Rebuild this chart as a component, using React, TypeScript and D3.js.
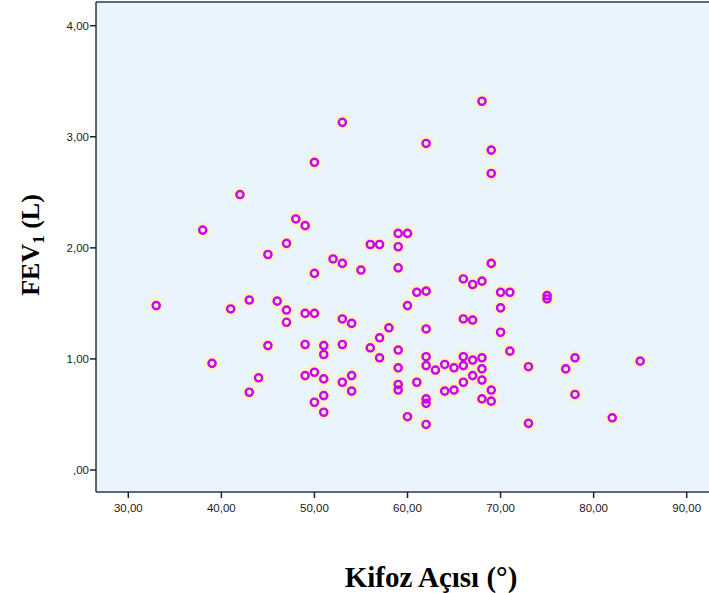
import React from 'react';
import * as d3 from 'd3';

// Kifoz açısı (derece) ve FEV1 (L) değerleri
const kifozAcisi: number[] = [
  68, 53, 62, 69, 69, 50, 42, 48, 49, 38,
  59, 60, 47, 56, 57, 59, 45, 52, 53, 69,
  59, 55, 50, 66, 68, 67, 61, 62, 70, 71,
  75, 75, 43, 46, 33, 60, 70, 41, 47, 49,
  50, 53, 66, 67, 47, 54, 58, 62, 70, 57,
  49, 51, 53, 45, 56, 59, 71, 51, 62, 66,
  57, 68, 78, 67, 85, 39, 62, 66, 64, 65,
  73, 59, 63, 68, 77, 50, 49, 54, 67, 44,
  51, 68, 53, 61, 66, 59, 59, 64, 65, 69,
  54, 43, 78, 51, 68, 62, 69, 50, 62, 51,
  60, 82, 62, 73,
];

const fev1: number[] = [
  3.32, 3.13, 2.94, 2.88, 2.67, 2.77, 2.48, 2.26, 2.2, 2.16,
  2.13, 2.13, 2.04, 2.03, 2.03, 2.01, 1.94, 1.9, 1.86, 1.86,
  1.82, 1.8, 1.77, 1.72, 1.7, 1.67, 1.6, 1.61, 1.6, 1.6,
  1.57, 1.54, 1.53, 1.52, 1.48, 1.48, 1.46, 1.45, 1.44, 1.41,
  1.41, 1.36, 1.36, 1.35, 1.33, 1.32, 1.28, 1.27, 1.24, 1.19,
  1.13, 1.12, 1.13, 1.12, 1.1, 1.08, 1.07, 1.04, 1.02, 1.02,
  1.01, 1.01, 1.01, 0.99, 0.98, 0.96, 0.94, 0.94, 0.95, 0.92,
  0.93, 0.92, 0.9, 0.91, 0.91, 0.88, 0.85, 0.85, 0.85, 0.83,
  0.82, 0.81, 0.79, 0.79, 0.79, 0.77, 0.72, 0.71, 0.72, 0.72,
  0.71, 0.7, 0.68, 0.67, 0.64, 0.64, 0.62, 0.61, 0.6, 0.52,
  0.48, 0.47, 0.41, 0.42,
];

const xTicks: number[] = [30, 40, 50, 60, 70, 80, 90];
const yTicks: number[] = [0, 1, 2, 3, 4];

const fmt = (v: number) => {
  const s = v.toFixed(2).replace('.', ',');
  return s.startsWith('0') ? s.slice(1) : s;
};

export default function App() {
  const width = 709;
  const height = 593;
  const plot = { left: 96, top: 2, right: 712, bottom: 492 };

  const x = d3.scaleLinear().domain([30, 90]).range([128.3, 686.7]);
  const y = d3.scaleLinear().domain([0, 4]).range([470, 25.7]);

  const points = kifozAcisi.map((k, i) => ({ k, f: fev1[i] }));

  return (
    <div style={{ position: 'absolute', left: 0, top: 0 }}>
      <svg width={width} height={height} style={{ display: 'block', background: '#fff' }}>
        {/* plot area */}
        <rect
          x={plot.left}
          y={plot.top}
          width={plot.right - plot.left}
          height={plot.bottom - plot.top}
          fill="#eaf4fc"
        />
        <line x1={plot.left} x2={plot.right} y1={plot.top} y2={plot.top} stroke="#2a3a4e" strokeWidth={1.5} />
        <line x1={plot.left} x2={plot.left} y1={plot.top} y2={plot.bottom} stroke="#2a3a4e" strokeWidth={1.5} />
        <line x1={plot.left} x2={plot.right} y1={plot.bottom} y2={plot.bottom} stroke="#2a3a4e" strokeWidth={1.5} />

        {/* y ticks */}
        {yTicks.map((t) => (
          <g key={'y' + t}>
            <line x1={plot.left - 6} x2={plot.left} y1={y(t)} y2={y(t)} stroke="#222" strokeWidth={1.5} />
            <text
              x={plot.left - 7}
              y={y(t) + 4}
              textAnchor="end"
              fontFamily="'Liberation Sans', Arial, sans-serif"
              fontSize={11.5}
              fill="#1a1a1a"
            >
              {fmt(t)}
            </text>
          </g>
        ))}

        {/* x ticks */}
        {xTicks.map((t) => (
          <g key={'x' + t}>
            <line x1={x(t)} x2={x(t)} y1={plot.bottom} y2={plot.bottom + 6} stroke="#222" strokeWidth={1.5} />
            <text
              x={x(t)}
              y={plot.bottom + 20}
              textAnchor="middle"
              fontFamily="'Liberation Sans', Arial, sans-serif"
              fontSize={11.5}
              fill="#1a1a1a"
            >
              {fmt(t)}
            </text>
          </g>
        ))}

        {/* points: halo + ring */}
        {points.map((p, i) => (
          <circle key={'h' + i} cx={x(p.k)} cy={y(p.f)} r={7.5} fill="#fbf1b8" opacity={0.85} />
        ))}
        {points.map((p, i) => (
          <circle
            key={'p' + i}
            cx={x(p.k)}
            cy={y(p.f)}
            r={3.6}
            fill="none"
            stroke="#cc00ee"
            strokeWidth={2.4}
          />
        ))}

        {/* axis titles */}
        <text
          x={431}
          y={587}
          textAnchor="middle"
          fontFamily="'Liberation Serif', 'Times New Roman', serif"
          fontWeight="bold"
          fontSize={29}
          fill="#000"
        >
          Kifoz Açısı (°)
        </text>
        <text
          transform="translate(39,245) rotate(-90)"
          textAnchor="middle"
          fontFamily="'Liberation Serif', 'Times New Roman', serif"
          fontWeight="bold"
          fontSize={26}
          fill="#000"
        >
          FEV
          <tspan fontSize={17} dy={5}>1</tspan>
          <tspan dy={-5}> (L)</tspan>
        </text>
      </svg>
    </div>
  );
}
